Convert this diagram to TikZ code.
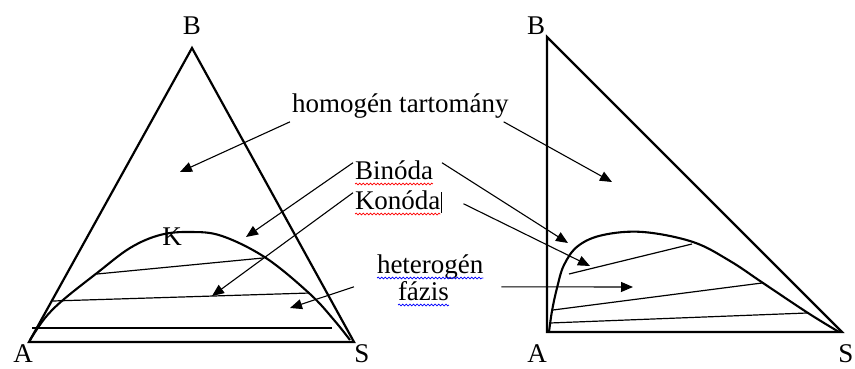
\documentclass[tikz,border=0pt]{standalone}
\usepackage{fontspec}
\setmainfont{Liberation Serif}
\usetikzlibrary{arrows.meta,decorations.pathmorphing}
\newcommand\lblfont{\fontsize{27}{32}\selectfont}
\newlength\homw
\begin{document}
\begin{tikzpicture}[x=1pt, y=-1pt,
    side/.style={line width=2.2pt, line join=miter},
    binodal/.style={line width=2.1pt},
    tie/.style={line width=1.2pt},
    pointer/.style={line width=1.1pt, -{Triangle[length=12pt, width=10pt]}},
    lbl/.style={font=\lblfont, inner sep=0pt, outer sep=0pt},
    wavy/.style={decorate, decoration={snake, amplitude=0.9pt, segment length=3.6pt}, line width=0.7pt}]
    \useasboundingbox (0,0) rectangle (855,369);
    \settowidth{\homw}{\lblfont homogén}

    % Csúcsok
    \coordinate (A1) at (29,342);
    \coordinate (B1) at (192,48);
    \coordinate (S1) at (354,342);
    \coordinate (A2) at (547,332);
    \coordinate (B2) at (547,37);
    \coordinate (S2) at (842,332);

    % Egyenlő oldalú háromszög
    \draw[side] (A1) -- (B1) -- (S1) -- cycle;
    \node[lbl, anchor=base] (labB1) at (192,35) {B};
    \node[lbl, anchor=base] (labA1) at (23,362) {A};
    \node[lbl, anchor=base] (labS1) at (362,362) {S};

    % Binódális görbe és konódák (bal)
    \draw[binodal] plot[smooth, tension=0.6] coordinates {(30,340) (45,318) (63,300) (97,273) (130,248) (160,235) (190,232) (222,236) (266,258) (310,294) (334,320) (350,340)};
    \draw[tie] (32,328) -- (332,328);
    \draw[tie] (53,301) -- (310,293);
    \draw[tie] (97,274) -- (263,258);
    \node[lbl, anchor=base] (labK) at (172,245) {K};

    % Derékszögű háromszög
    \draw[side] (A2) -- (B2) -- (S2) -- cycle;
    \node[lbl, anchor=base] (labB2) at (536,35) {B};
    \node[lbl, anchor=base] (labA2) at (537,362) {A};
    \node[lbl, anchor=base] (labS2) at (846,362) {S};

    % Binódális görbe és konódák (jobb)
    \draw[binodal] plot[smooth, tension=0.6] coordinates {(549,332) (552,311) (557,288) (564,265) (578,246) (603,235) (643,232) (693,242) (730,261) (763,283) (808,313) (839,332)};
    \draw[tie] (550,323) -- (807,313);
    \draw[tie] (553,310) -- (762,283);
    \draw[tie] (569,274) -- (692,244);

    % Feliratok
    \node[lbl, anchor=base west] (hom) at (292,113) {homogén tartomány};
    \node[lbl, anchor=base west] (bin) at (355,179) {Binóda};
    \node[lbl, anchor=base west] (kon) at (355,209) {Konóda};
    \node[lbl, anchor=base west] (het) at (377,273) {heterogén};
    \node[lbl, anchor=base west] (faz) at (398,300) {fázis};

    % Hullámos aláhúzás
    \draw[wavy, blue] ([yshift=-5pt]hom.base west) -- ++(\homw,0pt);
    \draw[wavy, red] ([yshift=-5pt]bin.base west) -- ([yshift=-5pt]bin.base east);
    \draw[wavy, red] ([yshift=-5pt]kon.base west) -- ([yshift=-5pt]kon.base east);
    \draw[wavy, blue] ([yshift=-5pt]het.base west) -- ([yshift=-5pt]het.base east);
    \draw[wavy, blue] ([yshift=-5pt]faz.base west) -- ([yshift=-5pt]faz.base east);
    \draw[line width=0.8pt] ([xshift=1pt,yshift=-4pt]kon.base east) -- ++(0pt,21pt);

    % Nyilak végpontjai
    \coordinate (tHomL) at (180,172);
    \coordinate (tBinL) at (246,237);
    \coordinate (tKonL) at (212,296);
    \coordinate (tHetL) at (290,308);
    \coordinate (tHomR) at (612,182);
    \coordinate (tBinR) at (568,243);
    \coordinate (tKonR) at (590,266);
    \coordinate (tHetR) at (633,287);

    % Nyilak
    \draw[pointer] ([xshift=-2pt,yshift=-3pt]hom.south west) -- (tHomL);
    \draw[pointer] ([xshift=-5pt,yshift=-3pt]hom.south east) -- (tHomR);
    \draw[pointer] ([xshift=-2pt,yshift=7pt]bin.west) -- (tBinL);
    \draw[pointer] ([xshift=9pt,yshift=7pt]bin.east) -- (tBinR);
    \draw[pointer] ([xshift=-2pt,yshift=7pt]kon.west) -- (tKonL);
    \draw[pointer] ([xshift=23pt,yshift=-4pt]kon.east) -- (tKonR);
    \draw[pointer] ([xshift=-23pt,yshift=-8pt]het.south west) -- (tHetL);
    \draw[pointer] ([xshift=18pt,yshift=-8pt]het.south east) -- (tHetR);
\end{tikzpicture}
\end{document}
